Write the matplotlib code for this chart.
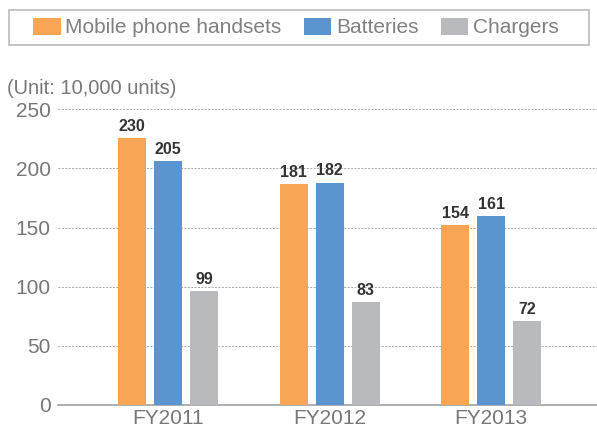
import numpy as np
import matplotlib.pyplot as plt
from matplotlib.patches import Rectangle

# Data
years = ['FY2011', 'FY2012', 'FY2013']
series = ['Mobile phone handsets', 'Batteries', 'Chargers']
# bar heights as drawn in the picture
handsets = [226, 187, 152]
batteries = [206, 188, 160]
chargers = [96, 87, 71]
# value labels printed above the bars
handsets_lbl = [230, 181, 154]
batteries_lbl = [205, 182, 161]
chargers_lbl = [99, 83, 72]
yticks = [0, 50, 100, 150, 200, 250]

colors = ['#F8A556', '#5B95D0', '#B9BABD']

plt.rcParams['font.family'] = ['Liberation Sans', 'DejaVu Sans']

fig = plt.figure(figsize=(5.97, 4.29), dpi=100)
ax = fig.add_axes([57.7 / 597, 24 / 429, 1 - 57.7 / 597, (405 - 109.3) / 429])

x = np.arange(len(years))
width = 0.173
offset = 0.222

bars = []
for i, (vals, lbls) in enumerate([(handsets, handsets_lbl),
                                  (batteries, batteries_lbl),
                                  (chargers, chargers_lbl)]):
    b = ax.bar(x + (i - 1) * offset, vals, width, color=colors[i],
               label=series[i], zorder=3)
    bars.append(b)
    for rect, lbl in zip(b, lbls):
        ax.annotate(str(lbl), (rect.get_x() + rect.get_width() / 2, rect.get_height()),
                    xytext=(0, 3), textcoords='offset points', ha='center', va='bottom',
                    fontsize=11.5, fontweight='bold', color='#333333', zorder=4)

ax.set_xlim(-0.684, 2.655)
ax.set_ylim(0, 250)
ax.set_yticks(yticks)
ax.set_xticks(x)
ax.set_xticklabels(years)
ax.tick_params(axis='both', length=0, labelsize=15, labelcolor='#777777')
ax.tick_params(axis='y', pad=5)
ax.tick_params(axis='x', pad=3)

for s in ['top', 'right', 'left']:
    ax.spines[s].set_visible(False)
ax.spines['bottom'].set_color('#a0a0a0')
ax.spines['bottom'].set_linewidth(1.2)

ax.yaxis.grid(True, linestyle=(0, (2, 1.5)), color='#a8a8a8', linewidth=0.7, zorder=0)
ax.set_axisbelow(True)

# legend with a separate frame
fig.patches.append(Rectangle((9.3 / 597, 1 - 45 / 429), 580 / 597, 35 / 429,
                             transform=fig.transFigure, fill=False,
                             edgecolor='#bbbbbb', linewidth=1.2))
leg = fig.legend(handles=bars, labels=series, loc='center',
                 bbox_to_anchor=(0.496, 1 - 27.5 / 429), ncol=3, frameon=False,
                 fontsize=15, handlelength=1.3, handleheight=0.88,
                 handletextpad=0.22, columnspacing=1.1, borderpad=0)
for t in leg.get_texts():
    t.set_color('#808080')

fig.text(7 / 597, 1 - 88 / 429, '(Unit: 10,000 units)', fontsize=14.5,
         color='#777777', va='center', ha='left')

fig.savefig('out.png', dpi=100)
